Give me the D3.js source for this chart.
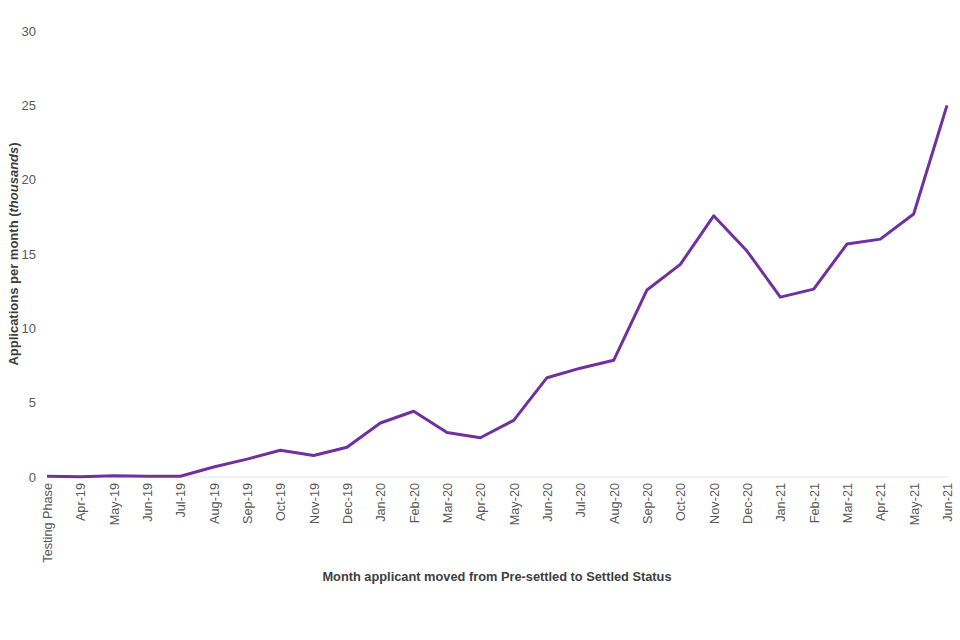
<!DOCTYPE html>
<html><head><meta charset="utf-8">
<script src="https://cdn.jsdelivr.net/npm/d3@7"></script>
<style>body{margin:0;background:#fff}svg{display:block}</style>
</head><body>
<svg id="c" width="960" height="640"></svg>
<script>
const categories = ["Testing Phase","Apr-19","May-19","Jun-19","Jul-19","Aug-19","Sep-19","Oct-19","Nov-19","Dec-19",
  "Jan-20","Feb-20","Mar-20","Apr-20","May-20","Jun-20","Jul-20","Aug-20","Sep-20","Oct-20","Nov-20","Dec-20",
  "Jan-21","Feb-21","Mar-21","Apr-21","May-21","Jun-21"];
const values = [0.05,0.02,0.08,0.05,0.05,0.67,1.2,1.8,1.45,2.0,
  3.63,4.42,3.0,2.64,3.81,6.68,7.32,7.85,12.58,14.3,17.57,15.2,
  12.1,12.64,15.67,16.0,17.69,25.0];
const yTicks = [0,5,10,15,20,25,30];

const svg = d3.select("#c");
const font = "'Liberation Sans', Arial, sans-serif";
const x = d3.scalePoint().domain(categories).range([47, 947]);
const y = d3.scaleLinear().domain([0, 30]).range([477, 31]);

// baseline
svg.append("line").attr("x1", 47).attr("x2", 948).attr("y1", y(0)).attr("y2", y(0))
  .attr("stroke", "#e6e6e6").attr("stroke-width", 1);

// y axis
const ya = svg.append("g").attr("transform", "translate(36,0)")
  .call(d3.axisLeft(y).tickValues(yTicks).tickSize(0).tickPadding(0));
ya.select(".domain").remove();
ya.selectAll("text").attr("font-family", font).attr("font-size", 13).attr("fill", "#595959");

// x axis
const xa = svg.append("g").attr("transform", `translate(0,${y(0)})`)
  .call(d3.axisBottom(x).tickSize(0).tickPadding(0));
xa.select(".domain").remove();
xa.selectAll("text").attr("font-family", font).attr("font-size", 12.7).attr("fill", "#595959")
  .attr("text-anchor", "end").attr("dy", "0.35em")
  .attr("transform", "translate(0,6) rotate(-90)");

// line
svg.append("path").datum(values)
  .attr("fill", "none").attr("stroke", "#7030a0").attr("stroke-width", 3)
  .attr("stroke-linejoin", "round")
  .attr("d", d3.line().x((d, i) => x(categories[i])).y(d => y(d)));

// y title
const yt = svg.append("text").attr("transform", "translate(18,254) rotate(-90)")
  .attr("text-anchor", "middle").attr("font-family", font).attr("font-size", 13)
  .attr("font-weight", "bold").attr("fill", "#404040");
yt.append("tspan").text("Applications per month (");
yt.append("tspan").attr("font-style", "italic").text("thousands");
yt.append("tspan").text(")");

// x title
svg.append("text").attr("x", 497).attr("y", 581).attr("text-anchor", "middle")
  .attr("font-family", font).attr("font-size", 12.8).attr("font-weight", "bold").attr("fill", "#404040")
  .text("Month applicant moved from Pre-settled to Settled Status");
</script>
</body></html>
